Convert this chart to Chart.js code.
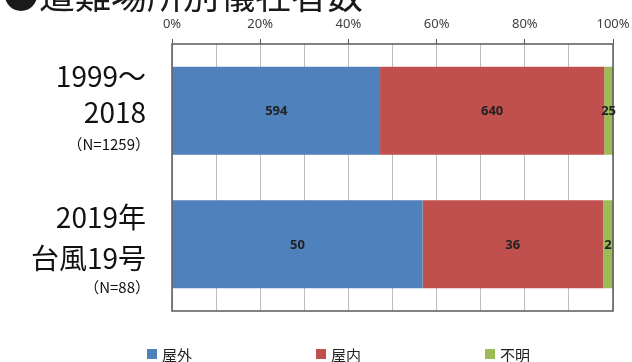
<!DOCTYPE html>
<html lang="ja">
<head>
<meta charset="utf-8">
<script src="https://cdn.jsdelivr.net/npm/chart.js@4/dist/chart.umd.min.js"></script>
<style>
  html, body { margin: 0; padding: 0; background: #fff; }
  #wrap { width: 632px; height: 362px; position: relative; }
</style>
</head>
<body>
<div id="wrap"><canvas id="placeChart"></canvas></div>
<script>
// --- Data ---
const chartTitle = '●遭難場所別犠牲者数';
const categories = [['1999〜', '2018'], ['2019年', '台風19号']];
const seriesNames = ['屋外', '屋内', '不明'];
const outdoorCounts = [594, 50];
const indoorCounts = [640, 36];
const unknownCounts = [25, 2];
const tickLabels = ['0%', '20%', '40%', '60%', '80%', '100%'];

const seriesColors = ['#4f81bd', '#c0504d', '#9bbb59'];

// N per period = sum of the three groups
const totals = outdoorCounts.map((v, i) => v + indoorCounts[i] + unknownCounts[i]);
const toShare = counts => counts.map((v, i) => v / totals[i] * 100);

// --- Layout bits for the hand-drawn labels ---
const CJK = '"Noto Sans CJK JP", "Noto Sans", sans-serif';
const catLineOffsets = [[-34, 2, 34], [-27, 14, 43]];  // per category, from band centre
const legendX = [147, 316, 485];

// Box, value labels, category labels, title and legend
const decorPlugin = {
    id: 'decor',
    afterDatasetsDraw(chart) {
        const { ctx, chartArea: a } = chart;
        ctx.save();

        // plot frame
        ctx.strokeStyle = '#5a5a5a';
        ctx.lineWidth = 1.5;
        ctx.strokeRect(a.left, a.top, a.right - a.left, a.bottom - a.top);

        // counts centred in each segment
        ctx.font = 'bold 13px "Noto Sans", sans-serif';
        ctx.fillStyle = '#222';
        ctx.textAlign = 'center';
        ctx.textBaseline = 'middle';
        chart.data.datasets.forEach((ds, di) => {
            chart.getDatasetMeta(di).data.forEach((bar, i) => {
                const p = bar.getProps(['x', 'y', 'base'], true);
                ctx.fillText(String(ds.counts[i]), (p.x + p.base) / 2, p.y + 1);
            });
        });
        ctx.restore();
    },
    afterDraw(chart) {
        const { ctx } = chart;
        const yScale = chart.scales.y;
        ctx.save();

        // title, partly above the top edge
        ctx.fillStyle = '#1a1a1a';
        ctx.font = '36px ' + CJK;
        ctx.textAlign = 'left';
        ctx.textBaseline = 'middle';
        ctx.fillText(chartTitle, 3, -5);

        // category labels, right aligned, with N underneath
        ctx.fillStyle = '#111';
        ctx.textAlign = 'right';
        categories.forEach((lines, i) => {
            const cy = yScale.getPixelForValue(i);
            const offs = catLineOffsets[i];
            ctx.font = '28px ' + CJK;
            lines.forEach((txt, k) => ctx.fillText(txt, 146, cy + offs[k]));
            ctx.font = '15px ' + CJK;
            ctx.fillText('（N=' + totals[i] + '）', 150, cy + offs[2]);
        });

        // legend
        ctx.textAlign = 'left';
        ctx.font = '15px ' + CJK;
        chart.data.datasets.forEach((ds, di) => {
            const x = legendX[di];
            ctx.fillStyle = ds.backgroundColor;
            ctx.fillRect(x, 349, 10, 10);
            ctx.fillStyle = '#222';
            ctx.fillText(ds.label, x + 15, 355);
        });
        ctx.restore();
    }
};

document.addEventListener('DOMContentLoaded', () => {
    const ctx = document.getElementById('placeChart').getContext('2d');
    const countSets = [outdoorCounts, indoorCounts, unknownCounts];

    new Chart(ctx, {
        type: 'bar',
        data: {
            labels: categories,
            datasets: seriesNames.map((name, i) => ({
                label: name,
                data: toShare(countSets[i]),
                counts: countSets[i],
                backgroundColor: seriesColors[i],
                borderWidth: 0,
                categoryPercentage: 1,
                barPercentage: 0.66
            }))
        },
        options: {
            indexAxis: 'y',
            responsive: true,
            maintainAspectRatio: false,
            animation: false,
            layout: { padding: { left: 0, right: 19, top: 0, bottom: 51 } },
            plugins: {
                legend: { display: false },
                tooltip: { enabled: false }
            },
            scales: {
                x: {
                    position: 'top',
                    stacked: true,
                    min: 0,
                    max: 100,
                    afterFit(scale) {
                        scale.height = 44;
                        // let the end labels hang over the edges
                        scale.paddingLeft = 0;
                        scale.paddingRight = 0;
                    },
                    ticks: {
                        stepSize: 10,
                        autoSkip: false,
                        maxRotation: 0,
                        padding: 7,
                        color: '#404040',
                        font: { size: 13, family: '"Noto Sans", sans-serif' },
                        callback: v => (v % 20 === 0 ? tickLabels[v / 20] : '')
                    },
                    grid: {
                        color: '#bdbdbd',
                        lineWidth: 1,
                        tickLength: 5,
                        tickColor: c => (c.tick && c.tick.value % 20 === 0 ? '#5a5a5a' : 'rgba(0,0,0,0)')
                    },
                    border: { display: false }
                },
                y: {
                    stacked: true,
                    afterFit(scale) { scale.width = 172; },
                    ticks: { display: false },
                    grid: { display: false },
                    border: { display: false }
                }
            }
        },
        plugins: [decorPlugin]
    });
});
</script>
</body>
</html>
